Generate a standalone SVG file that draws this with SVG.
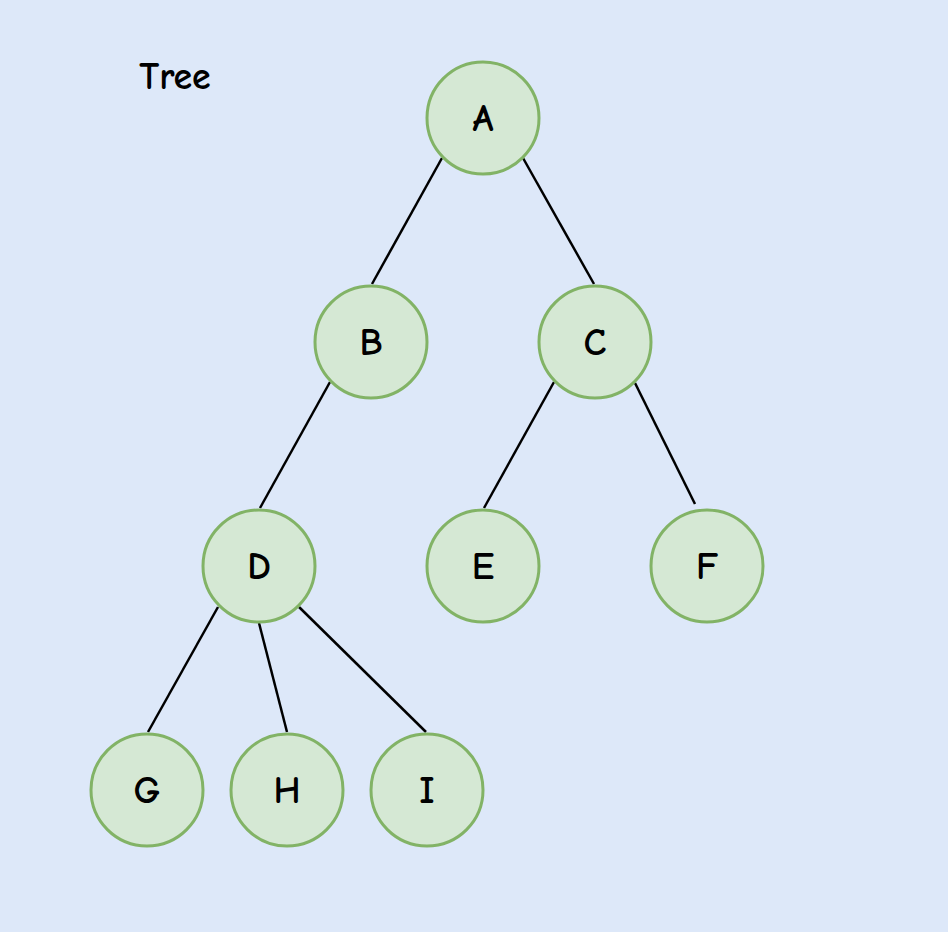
<svg xmlns="http://www.w3.org/2000/svg" width="948" height="932" viewBox="0 0 948 932">
<style>
.node circle{fill:#d5e8d4;stroke:#82b366;stroke-width:3}
.node text,.title{font-family:"Comic Neue","DejaVu Sans","Liberation Sans",sans-serif;font-size:38px;font-weight:bold;fill:#000;text-anchor:middle}
.edges line{stroke:#000;stroke-width:2.5;stroke-linecap:butt}
</style>
<rect x="0" y="0" width="948" height="932" fill="#dde8f9"/>
<text class="title" x="175" y="89">Tree</text>
<g class="edges">
<line x1="442" y1="158" x2="372" y2="284"/>
<line x1="523" y1="158" x2="594" y2="284"/>
<line x1="330" y1="382" x2="260" y2="508"/>
<line x1="554" y1="382" x2="484" y2="508"/>
<line x1="635" y1="383" x2="695" y2="504"/>
<line x1="218" y1="607" x2="148" y2="732"/>
<line x1="259" y1="623" x2="287" y2="732"/>
<line x1="299" y1="607" x2="426" y2="732"/>
</g>
<g id="A" class="node"><circle cx="483" cy="118" r="56"/><text x="483" y="131">A</text></g>
<g id="B" class="node"><circle cx="371" cy="342" r="56"/><text x="371" y="355">B</text></g>
<g id="C" class="node"><circle cx="595" cy="342" r="56"/><text x="595" y="355">C</text></g>
<g id="D" class="node"><circle cx="259" cy="566" r="56"/><text x="259" y="579">D</text></g>
<g id="E" class="node"><circle cx="483" cy="566" r="56"/><text x="483" y="579">E</text></g>
<g id="F" class="node"><circle cx="707" cy="566" r="56"/><text x="707" y="579">F</text></g>
<g id="G" class="node"><circle cx="147" cy="790" r="56"/><text x="147" y="803">G</text></g>
<g id="H" class="node"><circle cx="287" cy="790" r="56"/><text x="287" y="803">H</text></g>
<g id="I" class="node"><circle cx="427" cy="790" r="56"/><text x="427" y="803">I</text></g>
</svg>
